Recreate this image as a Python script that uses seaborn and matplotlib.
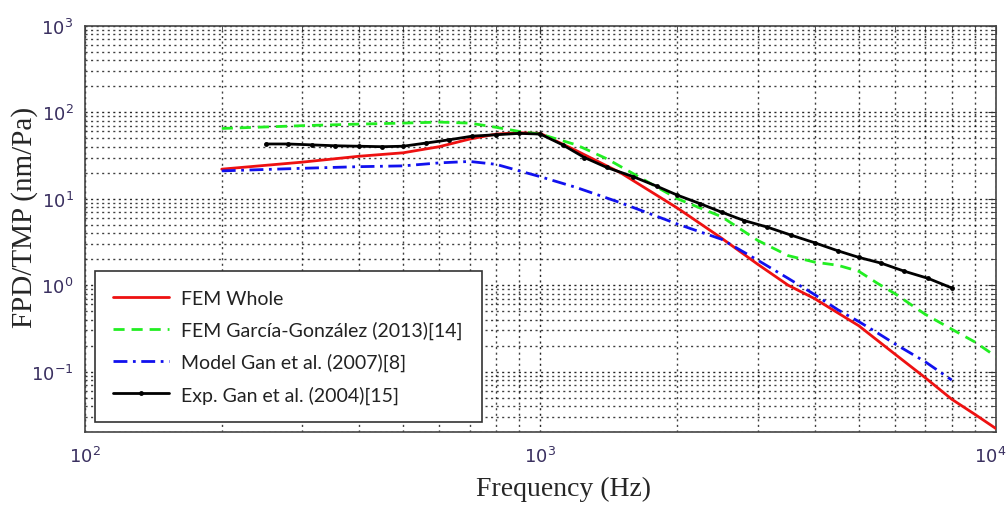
import numpy as np
import pandas as pd
import matplotlib
matplotlib.use("Agg")
import matplotlib.pyplot as plt
import matplotlib.transforms as mtransforms
import seaborn as sns
from matplotlib.ticker import LogLocator, NullFormatter

# ---- data ----
freq_fem = [200, 300, 400, 500, 600, 700, 800, 900, 1000, 1200, 1500, 2000,
            2500, 3000, 3500, 4000, 5000, 6000, 7000, 8000, 9000, 10000]
fem_whole = [22, 26.5, 31, 34, 40, 49, 56, 58, 57, 36, 20, 7.8,
             3.5, 1.75, 1.0, 0.7, 0.34, 0.16, 0.085, 0.048, 0.032, 0.022]

freq_gg = [200, 300, 400, 500, 600, 700, 800, 900, 1000, 1200, 1400, 1600,
           2000, 2500, 3000, 3500, 4000, 4500, 5000, 5500, 6000, 7000, 8000,
           9000, 10000]
fem_gg = [65, 70, 73, 75, 77, 75, 67, 60, 56, 42, 29, 19.5,
          10, 6.2, 3.3, 2.2, 1.85, 1.7, 1.45, 1.05, 0.8, 0.46, 0.31,
          0.22, 0.15]

freq_model = [200, 300, 400, 500, 600, 700, 800, 900, 1000, 1200, 1500, 2000,
              2500, 3000, 3500, 4000, 4500, 5000, 5500, 6000, 7000, 8000]
model_gan = [21, 22.5, 23.5, 24, 26, 27, 25, 21, 18, 13.5, 9, 5.1,
             3.4, 1.95, 1.2, 0.78, 0.52, 0.38, 0.28, 0.21, 0.13, 0.08]

freq_exp = [250, 280, 315, 355, 400, 450, 500, 560, 630, 710, 800, 900, 1000,
            1120, 1250, 1400, 1600, 1800, 2000, 2240, 2500, 2800, 3150, 3550,
            4000, 4500, 5000, 5600, 6300, 7100, 8000]
exp_gan = [43, 43, 42, 41, 40.5, 40, 40.5, 44, 48, 53, 55, 57, 56,
           42, 30, 23, 18, 14, 11, 8.8, 7.0, 5.6, 4.7, 3.8,
           3.1, 2.5, 2.1, 1.8, 1.45, 1.2, 0.93]

labels = ["FEM Whole", "FEM García-González (2013)[14]",
          "Model Gan et al. (2007)[8]", "Exp. Gan et al. (2004)[15]"]
x_label = "Frequency (Hz)"
y_label = "FPD/TMP (nm/Pa)"

# ---- figure ----
sns.set_style("white")
plt.rcParams["mathtext.fontset"] = "custom"
plt.rcParams["mathtext.rm"] = "Liberation Sans"
plt.rcParams["mathtext.it"] = "Liberation Sans:italic"
plt.rcParams["mathtext.bf"] = "Liberation Sans:bold"

fig = plt.figure(figsize=(10.07, 5.06), dpi=100)
ax = fig.add_axes([0.084, 0.144, 0.905, 0.803])

df_w = pd.DataFrame({"f": freq_fem, "v": fem_whole})
df_g = pd.DataFrame({"f": freq_gg, "v": fem_gg})
df_m = pd.DataFrame({"f": freq_model, "v": model_gan})
df_e = pd.DataFrame({"f": freq_exp, "v": exp_gan})

sns.lineplot(data=df_w, x="f", y="v", ax=ax, color="#ee1111", lw=2.0,
             label=labels[0], zorder=3)
sns.lineplot(data=df_g, x="f", y="v", ax=ax, color="#22ee22", lw=2.0,
             linestyle=(0, (4, 2.5)), label=labels[1], zorder=3)
sns.lineplot(data=df_m, x="f", y="v", ax=ax, color="#1111ee", lw=2.0,
             linestyle=(0, (5, 2, 1, 2)), label=labels[2], zorder=3)
sns.lineplot(data=df_e, x="f", y="v", ax=ax, color="black", lw=2.0,
             marker="o", markersize=3.5, markeredgewidth=0, label=labels[3],
             zorder=4)

ax.set_xscale("log")
ax.set_yscale("log")
ax.set_xlim(100, 10000)
ax.set_ylim(0.02, 1000)

ax.xaxis.set_major_locator(LogLocator(base=10, numticks=10))
ax.yaxis.set_major_locator(LogLocator(base=10, numticks=10))
ax.xaxis.set_minor_locator(LogLocator(base=10, subs=np.arange(2, 10), numticks=100))
ax.yaxis.set_minor_locator(LogLocator(base=10, subs=np.arange(2, 10), numticks=100))
ax.xaxis.set_minor_formatter(NullFormatter())
ax.yaxis.set_minor_formatter(NullFormatter())

ax.grid(which="major", linestyle=(0, (1.5, 2.5)), color="black", lw=1.0, alpha=0.85)
ax.grid(which="minor", linestyle=(0, (1.5, 2.5)), color="black", lw=1.0, alpha=0.75)
ax.set_axisbelow(True)

ax.tick_params(which="both", direction="in", top=True, right=True,
               colors="#333333", labelcolor="#3a3060", labelsize=13)
ax.tick_params(which="major", length=6)
ax.tick_params(which="minor", length=3)
ax.tick_params(axis="x", pad=10)
ax.tick_params(axis="y", pad=8)
for sp in ax.spines.values():
    sp.set_color("#444444")
    sp.set_linewidth(1.2)

ax.set_xlabel(x_label, family="Liberation Serif", fontsize=20)
ax.set_ylabel(y_label, family="Liberation Serif", fontsize=21)
ax.xaxis.set_label_coords(0.525, -0.108)
ax.yaxis.set_label_coords(-0.051, 0.53)

leg = ax.legend(loc="lower left", bbox_to_anchor=(0.011, 0.025, 0.425, 0.3),
                mode="expand",
                prop={"family": "Lato", "size": 14}, frameon=True,
                fancybox=False, edgecolor="#333333", framealpha=1,
                handlelength=2.9, handletextpad=0.6, labelspacing=0.72,
                borderpad=0.95, borderaxespad=0)
leg.get_frame().set_linewidth(1.2)
for t in leg.get_texts():
    t.set_color("#222222")

# nudge the 10^4 tick label slightly inward so it stays in the picture
fig.canvas.draw()
for tick in ax.xaxis.get_major_ticks():
    if abs(tick.get_loc() - 1e4) < 1:
        off = mtransforms.ScaledTranslation(-6 / 100, 0, fig.dpi_scale_trans)
        tick.label1.set_transform(tick.label1.get_transform() + off)

fig.savefig("out.png", dpi=100)
